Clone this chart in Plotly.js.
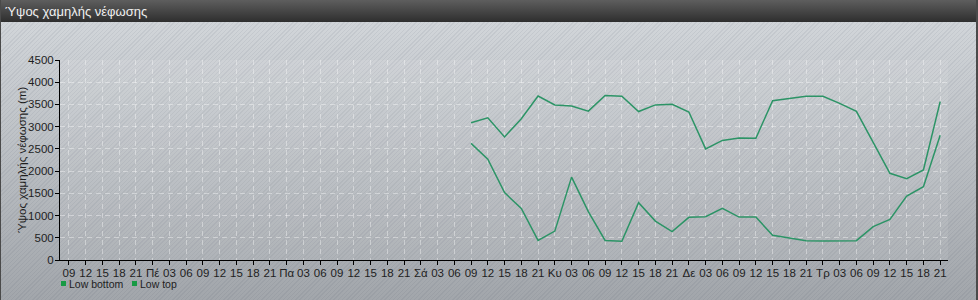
<!DOCTYPE html>
<html>
<head>
<meta charset="utf-8">
<script src="https://cdn.plot.ly/plotly-3.0.1.min.js"></script>
<style>
  html, body { margin: 0; padding: 0; background: #a8adb2; }
  #wrap { position: relative; width: 978px; height: 300px; overflow: hidden; }
  #bg { position: absolute; left: 0; top: 0; width: 978px; height: 300px;
        background: linear-gradient(to bottom, #d3d7db 0px, #d0d4d8 30px, #a2a6ab 300px); }
  #hatch { position: absolute; left: 0; top: 22px; width: 978px; height: 278px;
        background: repeating-linear-gradient(135deg, rgba(60,70,90,0.08) 0px, rgba(60,70,90,0.08) 1px, rgba(0,0,0,0) 1px, rgba(0,0,0,0) 3px); }
  #bar { position: absolute; left: 0; top: 0; width: 978px; height: 22px;
        background: linear-gradient(to bottom, #5e5e5e, #2e2e2e); }
  #frame { position: absolute; left: 0; top: 0; width: 978px; height: 300px; box-sizing: border-box;
        border-left: 1px solid #4a4a4a; border-right: 2px solid #4a4a4a; }
  #chart { position: absolute; left: 0; top: 0; width: 978px; height: 300px; }
</style>
</head>
<body>
<div id="wrap">
  <div id="bg"></div>
  <div id="hatch"></div>
  <div id="bar"></div>
  <div id="frame"></div>
  <div id="chart"></div>
</div>
<script>
// Tick labels every 3 hours, starting 09:00 on day 0 (Wednesday)
const tickLabels = [
  '09','12','15','18','21',
  'Πέ','03','06','09','12','15','18','21',
  'Πα','03','06','09','12','15','18','21',
  'Σά','03','06','09','12','15','18','21',
  'Κυ','03','06','09','12','15','18','21',
  'Δε','03','06','09','12','15','18','21',
  'Τρ','03','06','09','12','15','18','21'
];
const tickHours = tickLabels.map((_, i) => 9 + 3 * i);

// Observation times (hours since day-0 midnight)
const timeHours = [81, 84, 87, 90, 93, 96, 99, 102, 105, 108, 111, 114, 117, 120, 123,
                   126, 129, 132, 135, 138, 141, 144, 147, 150, 153, 156, 159, 162, 165];

const lowBottom = [2625, 2270, 1515, 1160, 440, 650, 1865, 1090, 440, 420, 1290, 875, 640, 960, 975,
                   1160, 965, 965, 555, 495, 435, 430, 430, 435, 750, 915, 1440, 1650, 2805];
const lowTop = [3090, 3200, 2770, 3180, 3690, 3490, 3465, 3350, 3700, 3685, 3340, 3490, 3505, 3330, 2500,
                2690, 2745, 2740, 3585, 3640, 3685, 3685, 3525, 3345, 2650, 1950, 1830, 2025, 3565];

const seriesNames = ['Low bottom', 'Low top'];
const yTitle = 'Ύψος χαμηλής νέφωσης (m)';
const lineColor = '#2c9466';
const legendColor = '#179a45';
const FONT = 'Liberation Sans, Arial, sans-serif';

const traces = [
  { x: timeHours, y: lowBottom, name: seriesNames[0], type: 'scatter', mode: 'lines',
    line: { color: lineColor, width: 1.5 }, showlegend: false, hoverinfo: 'skip' },
  { x: timeHours, y: lowTop, name: seriesNames[1], type: 'scatter', mode: 'lines',
    line: { color: lineColor, width: 1.5 }, showlegend: false, hoverinfo: 'skip' }
];

// plot area: left 60, right 948, top 60, bottom 260
const L = 60, R = 948, T = 60, B = 260;
const px = v => (v - L) / (R - L);
const py = v => (B - v) / (B - T);

const gridStyle = { showgrid: true, gridcolor: 'rgba(255,255,255,0.38)', griddash: '5px,4px', gridwidth: 1 };
const tickFont = { family: FONT, size: 11.5, color: '#1e1e1e' };

const layout = {
  width: 978, height: 300,
  margin: { l: L, r: 978 - R, t: T, b: 300 - B, pad: 0 },
  paper_bgcolor: 'rgba(0,0,0,0)',
  plot_bgcolor: 'rgba(255,255,255,0.08)',
  font: { family: FONT, size: 12, color: '#1e1e1e' },
  title: { text: 'Ύψος χαμηλής νέφωσης', x: 5 / 978, xanchor: 'left', xref: 'container',
           y: 1 - 11.5 / 300, yanchor: 'middle', yref: 'container',
           font: { family: FONT, size: 13, color: '#f0f0f0' } },
  showlegend: false,
  xaxis: Object.assign({
    range: [7.4, 166.4], tickmode: 'array', tickvals: tickHours, ticktext: tickLabels,
    showline: true, linecolor: '#000', linewidth: 1, mirror: false,
    ticks: 'outside', ticklen: 4, tickcolor: '#000', tickwidth: 1, ticklabelstandoff: -2,
    zeroline: false, tickangle: 0, automargin: false, tickfont: tickFont
  }, gridStyle),
  yaxis: Object.assign({
    range: [0, 4500], tickmode: 'linear', tick0: 0, dtick: 500,
    showline: true, linecolor: '#000', linewidth: 1,
    ticks: 'outside', ticklen: 4, tickcolor: '#000', tickwidth: 1, ticklabelstandoff: -1,
    zeroline: false, automargin: false, tickfont: tickFont
  }, gridStyle),
  shapes: [
    { type: 'rect', xref: 'paper', yref: 'paper', x0: px(61), x1: px(66), y0: py(286), y1: py(281),
      fillcolor: legendColor, line: { width: 0 } },
    { type: 'rect', xref: 'paper', yref: 'paper', x0: px(132), x1: px(137), y0: py(286), y1: py(281),
      fillcolor: legendColor, line: { width: 0 } }
  ],
  annotations: [
    { xref: 'paper', yref: 'paper', x: px(67), y: py(284), xanchor: 'left', yanchor: 'middle',
      text: seriesNames[0], showarrow: false, font: { family: FONT, size: 10.5, color: '#1e1e1e' } },
    { xref: 'paper', yref: 'paper', x: px(138), y: py(284), xanchor: 'left', yanchor: 'middle',
      text: seriesNames[1], showarrow: false, font: { family: FONT, size: 10.5, color: '#1e1e1e' } },
    { xref: 'paper', yref: 'paper', x: px(22), y: 0.5, xanchor: 'center', yanchor: 'middle',
      textangle: -90, text: yTitle, showarrow: false,
      font: { family: FONT, size: 11.5, color: '#1e1e1e' } }
  ]
};

Plotly.newPlot('chart', traces, layout, { staticPlot: true, displayModeBar: false });
</script>
</body>
</html>
